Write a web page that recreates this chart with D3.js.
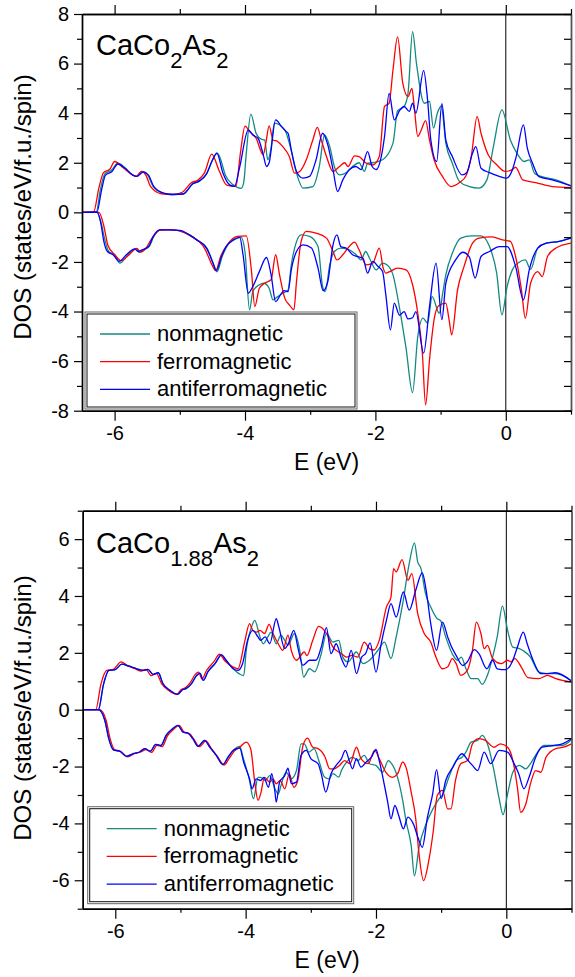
<!DOCTYPE html>
<html>
<head>
<meta charset="utf-8">
<script src="https://d3js.org/d3.v7.min.js"></script>
<style>
  body { margin: 0; background: #fff; }
  svg { display: block; font-family: "Liberation Sans", Arial, sans-serif; }
</style>
</head>
<body>
<script>
// ---- data: [E (eV), DOS] pairs ----
const SERIES = ['nonmagnetic', 'ferromagnetic', 'antiferromagnetic'];
const COLORS = ['#138a80', '#ff0000', '#0000ff'];
const X_MAJOR = [-6, -4, -2, 0];
const X_MINOR = [-5, -3, -1, 1];

// CaCo2As2
const a_nm_up = [[-6.5,0],[-6.28,0.02],[-6.22,0.9],[-6.15,1.55],[-6.05,1.7],[-5.95,1.98],[-5.84,1.8],[-5.72,1.5],[-5.66,1.45],[-5.57,1.65],[-5.49,1.5],[-5.41,1.05],[-5.26,0.78],[-5.1,0.72],[-4.95,0.74],[-4.8,1.15],[-4.69,1.28],[-4.59,1.55],[-4.5,2.1],[-4.43,2.4],[-4.39,2.25],[-4.3,1.5],[-4.18,1.11],[-4.06,0.97],[-4.02,1.2],[-3.98,2.39],[-3.91,3.96],[-3.83,3.19],[-3.75,2.95],[-3.7,2.92],[-3.65,2.12],[-3.6,2.6],[-3.55,3.6],[-3.39,3.33],[-3.32,2.79],[-3.21,1.58],[-3.11,0.98],[-2.96,1.04],[-2.86,1.85],[-2.78,3.12],[-2.7,2.65],[-2.63,1.85],[-2.55,1.51],[-2.45,1.6],[-2.35,1.85],[-2.25,2.0],[-2.17,1.65],[-2.12,1.98],[-2.04,2.0],[-1.89,2.12],[-1.73,2.79],[-1.66,4.1],[-1.56,4.27],[-1.5,4.8],[-1.43,7.29],[-1.37,6.0],[-1.25,4.4],[-1.17,4.47],[-1.11,3.4],[-1.05,4.0],[-0.99,4.29],[-0.92,2.79],[-0.82,1.98],[-0.71,1.24],[-0.56,1.04],[-0.41,0.98],[-0.29,1.31],[-0.19,2.65],[-0.06,4.13],[0.07,2.92],[0.17,2.39],[0.28,2.05],[0.36,2.12],[0.44,1.58],[0.54,1.45],[0.77,1.31],[1.0,1.07]];
const a_fm_up = [[-6.5,0],[-6.32,0.03],[-6.24,1.0],[-6.17,1.6],[-6.07,1.75],[-6.0,2.05],[-5.87,1.8],[-5.72,1.5],[-5.67,1.45],[-5.59,1.65],[-5.52,1.5],[-5.45,1.05],[-5.28,0.75],[-5.12,0.72],[-4.97,0.8],[-4.82,1.2],[-4.72,1.3],[-4.62,1.6],[-4.51,2.35],[-4.4,1.7],[-4.28,1.1],[-4.14,1.05],[-4.07,2.4],[-4.0,3.48],[-3.93,3.26],[-3.83,2.99],[-3.72,2.32],[-3.68,2.8],[-3.63,3.49],[-3.57,2.92],[-3.5,2.86],[-3.42,2.65],[-3.32,2.25],[-3.24,1.58],[-3.16,1.65],[-3.06,2.12],[-2.96,2.92],[-2.89,3.43],[-2.83,2.92],[-2.75,2.25],[-2.65,1.65],[-2.55,1.85],[-2.47,2.0],[-2.42,1.85],[-2.32,2.28],[-2.25,2.25],[-2.14,1.98],[-2.04,1.91],[-1.94,2.25],[-1.86,4.27],[-1.79,4.4],[-1.73,5.75],[-1.66,7.08],[-1.58,5.21],[-1.5,4.67],[-1.44,5.0],[-1.4,4.13],[-1.35,3.06],[-1.3,3.3],[-1.23,3.7],[-1.17,2.92],[-1.1,2.12],[-0.97,1.44],[-0.84,1.04],[-0.71,1.2],[-0.61,1.48],[-0.53,2.25],[-0.44,3.86],[-0.38,3.19],[-0.27,2.32],[-0.14,1.92],[-0.01,1.65],[0.09,1.71],[0.15,1.82],[0.26,1.31],[0.46,1.2],[0.71,1.04],[1.0,1.0]];
const a_afm_up = [[-6.5,0],[-6.27,0.02],[-6.2,0.9],[-6.14,1.5],[-6.04,1.65],[-5.95,1.95],[-5.84,1.78],[-5.72,1.5],[-5.66,1.45],[-5.56,1.62],[-5.48,1.5],[-5.4,1.05],[-5.25,0.78],[-5.1,0.72],[-4.95,0.74],[-4.8,1.15],[-4.69,1.28],[-4.59,1.55],[-4.5,2.1],[-4.43,2.38],[-4.34,1.6],[-4.23,1.1],[-4.16,1.05],[-4.08,1.85],[-3.95,3.33],[-3.88,3.12],[-3.8,2.99],[-3.72,2.32],[-3.67,1.85],[-3.63,2.0],[-3.53,3.73],[-3.44,3.46],[-3.37,3.26],[-3.34,3.19],[-3.29,2.52],[-3.21,1.65],[-3.11,1.38],[-3.01,1.45],[-2.91,2.12],[-2.81,3.19],[-2.73,2.72],[-2.65,1.72],[-2.58,0.84],[-2.5,1.31],[-2.4,1.72],[-2.3,1.85],[-2.22,1.72],[-2.12,2.45],[-2.05,1.85],[-1.99,1.72],[-1.91,2.25],[-1.86,3.06],[-1.79,4.8],[-1.71,3.73],[-1.63,4.1],[-1.56,4.27],[-1.48,4.07],[-1.43,4.4],[-1.38,4.0],[-1.26,5.72],[-1.2,4.54],[-1.15,2.92],[-1.06,2.05],[-0.98,4.38],[-0.92,2.92],[-0.82,2.25],[-0.67,1.51],[-0.6,1.6],[-0.51,2.39],[-0.46,2.65],[-0.38,1.78],[-0.25,1.6],[-0.1,1.45],[0.01,1.38],[0.1,1.71],[0.16,2.25],[0.27,3.53],[0.33,2.59],[0.41,1.98],[0.51,1.44],[0.71,1.31],[1.0,1.07]];
const a_nm_dn = [[-6.5,0],[-6.27,0],[-6.2,-0.5],[-6.15,-1.1],[-6.09,-1.58],[-6.0,-1.72],[-5.92,-2.05],[-5.8,-1.72],[-5.67,-1.47],[-5.62,-1.62],[-5.56,-1.52],[-5.47,-1.38],[-5.4,-0.98],[-5.3,-0.71],[-5.18,-0.7],[-5.0,-0.75],[-4.85,-0.93],[-4.73,-1.13],[-4.58,-1.46],[-4.48,-2.1],[-4.43,-2.4],[-4.35,-1.78],[-4.28,-1.38],[-4.17,-1.11],[-4.06,-1.0],[-4.0,-1.6],[-3.93,-3.93],[-3.88,-3.19],[-3.78,-2.92],[-3.71,-2.86],[-3.63,-3.06],[-3.57,-3.53],[-3.5,-3.4],[-3.42,-3.26],[-3.34,-3.13],[-3.29,-2.12],[-3.21,-1.18],[-3.14,-0.91],[-3.01,-0.97],[-2.88,-1.38],[-2.81,-2.99],[-2.77,-3.2],[-2.7,-2.12],[-2.63,-1.58],[-2.53,-1.44],[-2.4,-1.51],[-2.3,-1.7],[-2.22,-1.92],[-2.15,-1.58],[-2.09,-1.85],[-1.99,-2.32],[-1.89,-2.05],[-1.82,-2.12],[-1.73,-2.52],[-1.63,-3.86],[-1.53,-5.48],[-1.43,-7.27],[-1.35,-5.01],[-1.27,-4.27],[-1.2,-4.47],[-1.13,-3.4],[-1.02,-4.07],[-0.97,-3.3],[-0.92,-2.52],[-0.82,-1.65],[-0.69,-1.04],[-0.53,-0.95],[-0.38,-0.95],[-0.25,-1.38],[-0.14,-2.45],[-0.06,-4.13],[0.02,-2.99],[0.1,-2.32],[0.2,-2.02],[0.3,-1.92],[0.38,-2.3],[0.49,-1.44],[0.62,-1.24],[0.82,-1.17],[1.0,-1.04]];
const a_fm_dn = [[-6.5,0],[-6.24,0],[-6.17,-0.5],[-6.1,-1.35],[-6.0,-1.7],[-5.9,-1.95],[-5.78,-1.72],[-5.66,-1.45],[-5.6,-1.6],[-5.52,-1.45],[-5.44,-1.1],[-5.3,-0.72],[-5.12,-0.7],[-4.95,-0.8],[-4.8,-1.0],[-4.62,-1.45],[-4.5,-2.15],[-4.45,-2.35],[-4.37,-1.75],[-4.27,-1.3],[-4.12,-0.97],[-3.98,-0.95],[-3.9,-2.39],[-3.85,-3.8],[-3.78,-3.06],[-3.7,-2.86],[-3.6,-2.72],[-3.53,-1.71],[-3.47,-2.52],[-3.39,-3.46],[-3.32,-3.73],[-3.25,-3.93],[-3.21,-2.79],[-3.14,-1.18],[-3.06,-0.77],[-2.91,-0.84],[-2.75,-1.04],[-2.65,-1.58],[-2.59,-1.92],[-2.5,-1.71],[-2.42,-1.44],[-2.32,-1.2],[-2.25,-1.51],[-2.14,-2.12],[-2.04,-2.05],[-1.94,-1.44],[-1.88,-2.25],[-1.84,-2.45],[-1.78,-2.39],[-1.66,-2.25],[-1.53,-2.32],[-1.43,-2.92],[-1.35,-4.07],[-1.28,-5.68],[-1.23,-7.76],[-1.17,-5.95],[-1.1,-4.33],[-1.03,-3.77],[-0.92,-3.66],[-0.87,-4.33],[-0.83,-4.94],[-0.74,-3.13],[-0.64,-2.18],[-0.51,-1.24],[-0.41,-1.04],[-0.21,-0.99],[-0.05,-1.11],[0.07,-1.17],[0.15,-1.78],[0.24,-3.13],[0.3,-4.27],[0.38,-2.86],[0.49,-2.39],[0.56,-2.59],[0.64,-1.78],[0.77,-1.44],[1.0,-1.24]];
const a_afm_dn = [[-6.5,0],[-6.27,0],[-6.21,-0.45],[-6.17,-1.11],[-6.11,-1.58],[-6.02,-1.72],[-5.93,-1.98],[-5.82,-1.71],[-5.69,-1.47],[-5.64,-1.58],[-5.58,-1.51],[-5.48,-1.38],[-5.41,-0.98],[-5.31,-0.71],[-5.2,-0.71],[-5.0,-0.73],[-4.85,-0.91],[-4.74,-1.11],[-4.59,-1.44],[-4.49,-2.05],[-4.44,-2.35],[-4.36,-1.78],[-4.29,-1.38],[-4.18,-1.11],[-4.08,-1.01],[-4.03,-1.71],[-3.95,-3.26],[-3.88,-2.99],[-3.78,-2.39],[-3.67,-1.82],[-3.6,-2.52],[-3.53,-3.6],[-3.44,-3.26],[-3.4,-3.16],[-3.34,-3.2],[-3.29,-2.32],[-3.21,-1.58],[-3.11,-1.31],[-2.98,-1.44],[-2.88,-2.25],[-2.8,-3.16],[-2.73,-2.79],[-2.65,-1.31],[-2.59,-0.91],[-2.53,-1.38],[-2.45,-1.44],[-2.35,-1.71],[-2.28,-1.78],[-2.19,-1.85],[-2.12,-2.45],[-2.04,-1.98],[-1.96,-2.18],[-1.89,-2.39],[-1.84,-3.33],[-1.77,-4.74],[-1.71,-3.66],[-1.63,-4.15],[-1.56,-4.0],[-1.5,-4.3],[-1.43,-4.25],[-1.38,-4.0],[-1.26,-5.68],[-1.17,-3.8],[-1.07,-2.05],[-0.98,-4.33],[-0.92,-2.86],[-0.77,-1.92],[-0.66,-1.61],[-0.56,-1.8],[-0.47,-2.65],[-0.38,-1.78],[-0.25,-1.58],[-0.1,-1.38],[0.02,-1.38],[0.15,-2.18],[0.27,-3.53],[0.36,-2.32],[0.49,-1.44],[0.62,-1.24],[0.82,-1.17],[1.0,-1.04]];

// CaCo1.88As2
const b_nm_up = [[-6.5,0],[-6.26,0],[-6.18,0.9],[-6.1,1.38],[-6.0,1.41],[-5.9,1.6],[-5.8,1.54],[-5.67,1.44],[-5.57,1.38],[-5.5,1.42],[-5.42,1.24],[-5.34,1.3],[-5.27,0.92],[-5.16,0.68],[-5.04,0.54],[-4.97,0.7],[-4.91,0.75],[-4.83,0.92],[-4.75,1.21],[-4.7,1.28],[-4.65,1.03],[-4.58,1.33],[-4.47,1.62],[-4.37,1.93],[-4.3,1.74],[-4.19,1.44],[-4.09,1.25],[-4.03,1.2],[-3.99,2.09],[-3.91,2.91],[-3.86,3.14],[-3.78,2.56],[-3.73,2.32],[-3.66,2.56],[-3.61,2.73],[-3.53,2.32],[-3.46,2.62],[-3.4,2.44],[-3.35,2.27],[-3.25,2.68],[-3.17,2.09],[-3.11,1.15],[-3.02,1.44],[-2.94,1.33],[-2.84,1.97],[-2.76,2.68],[-2.66,2.38],[-2.57,2.44],[-2.51,1.85],[-2.43,1.68],[-2.3,2.03],[-2.2,1.62],[-2.1,1.74],[-1.97,2.09],[-1.87,2.38],[-1.77,1.8],[-1.69,2.56],[-1.59,3.73],[-1.49,5.14],[-1.41,5.87],[-1.36,5.2],[-1.31,4.97],[-1.24,4.08],[-1.16,3.61],[-1.06,3.2],[-1.01,3.14],[-0.93,2.56],[-0.83,1.97],[-0.75,1.74],[-0.69,1.85],[-0.62,1.44],[-0.54,1.09],[-0.44,1.09],[-0.37,0.89],[-0.29,1.21],[-0.21,1.85],[-0.14,2.56],[-0.06,3.64],[0.02,2.79],[0.1,2.2],[0.2,2.15],[0.27,2.06],[0.37,1.85],[0.5,1.32],[0.63,1.27],[0.76,1.27],[1.0,1.01]];
const b_fm_up = [[-6.5,0],[-6.3,0],[-6.22,0.9],[-6.13,1.38],[-6.03,1.42],[-5.91,1.68],[-5.82,1.56],[-5.7,1.44],[-5.6,1.36],[-5.53,1.42],[-5.45,1.2],[-5.37,1.28],[-5.29,0.92],[-5.18,0.68],[-5.06,0.54],[-4.99,0.7],[-4.92,0.78],[-4.85,0.95],[-4.77,1.25],[-4.72,1.32],[-4.67,1.08],[-4.6,1.38],[-4.49,1.68],[-4.4,1.95],[-4.32,1.72],[-4.19,1.5],[-4.12,1.44],[-4.01,2.44],[-3.94,3.03],[-3.89,2.79],[-3.83,2.73],[-3.78,2.79],[-3.71,2.68],[-3.64,3.0],[-3.58,2.68],[-3.5,2.32],[-3.43,2.09],[-3.35,2.62],[-3.3,2.09],[-3.22,1.74],[-3.1,2.03],[-3.06,1.9],[-2.97,2.44],[-2.88,2.93],[-2.76,2.68],[-2.66,2.2],[-2.53,1.97],[-2.45,1.85],[-2.37,1.91],[-2.28,1.85],[-2.18,2.38],[-2.1,2.15],[-2.03,2.1],[-1.95,2.44],[-1.84,3.61],[-1.77,3.96],[-1.73,4.96],[-1.69,4.85],[-1.6,5.28],[-1.51,4.55],[-1.45,4.79],[-1.36,3.38],[-1.26,2.68],[-1.16,2.38],[-1.08,1.85],[-0.98,1.44],[-0.9,1.5],[-0.83,1.8],[-0.77,1.62],[-0.7,1.21],[-0.6,1.38],[-0.52,2.09],[-0.46,3.08],[-0.39,2.68],[-0.34,2.15],[-0.29,2.26],[-0.21,1.8],[-0.08,1.62],[0.02,1.74],[0.07,1.68],[0.13,1.8],[0.23,1.5],[0.33,1.13],[0.5,1.09],[0.63,1.21],[0.76,1.09],[1.0,0.97]];
const b_afm_up = [[-6.5,0],[-6.26,0],[-6.18,0.9],[-6.1,1.38],[-6.0,1.41],[-5.9,1.6],[-5.8,1.54],[-5.67,1.44],[-5.57,1.38],[-5.5,1.42],[-5.42,1.24],[-5.34,1.3],[-5.27,0.92],[-5.16,0.68],[-5.04,0.54],[-4.97,0.7],[-4.91,0.75],[-4.83,0.92],[-4.75,1.21],[-4.7,1.28],[-4.65,1.03],[-4.58,1.33],[-4.47,1.62],[-4.37,1.93],[-4.3,1.74],[-4.19,1.44],[-4.12,1.38],[-4.05,1.6],[-3.97,2.44],[-3.89,2.79],[-3.81,2.56],[-3.77,2.44],[-3.7,2.56],[-3.63,2.32],[-3.53,3.2],[-3.49,2.91],[-3.4,2.15],[-3.35,2.3],[-3.26,2.79],[-3.2,2.2],[-3.12,1.56],[-3.02,1.74],[-2.92,1.74],[-2.84,2.2],[-2.76,2.89],[-2.69,1.97],[-2.61,2.32],[-2.53,1.8],[-2.46,1.5],[-2.38,2.09],[-2.3,1.27],[-2.22,1.85],[-2.16,1.97],[-2.09,2.35],[-2.0,1.32],[-1.92,2.32],[-1.84,3.14],[-1.77,3.73],[-1.69,3.26],[-1.58,4.14],[-1.49,3.5],[-1.39,4.2],[-1.29,4.81],[-1.23,4.2],[-1.16,3.03],[-1.07,2.09],[-0.98,3.08],[-0.9,2.56],[-0.85,2.26],[-0.77,1.91],[-0.67,1.56],[-0.6,1.68],[-0.49,2.11],[-0.42,1.97],[-0.3,1.44],[-0.21,1.74],[-0.14,1.44],[-0.01,1.41],[0.09,1.68],[0.17,2.2],[0.26,2.73],[0.32,2.32],[0.4,1.8],[0.53,1.27],[0.63,1.27],[0.75,1.3],[1.0,1.01]];
const b_nm_dn = [[-6.5,0],[-6.26,0],[-6.16,-0.38],[-6.1,-1.02],[-6.03,-1.41],[-5.93,-1.46],[-5.83,-1.64],[-5.73,-1.55],[-5.62,-1.48],[-5.55,-1.37],[-5.46,-1.46],[-5.38,-1.22],[-5.3,-1.26],[-5.22,-0.9],[-5.12,-0.67],[-5.04,-0.55],[-4.96,-0.79],[-4.88,-0.83],[-4.81,-1.02],[-4.73,-1.29],[-4.63,-1.08],[-4.55,-1.32],[-4.45,-1.61],[-4.35,-1.93],[-4.27,-1.67],[-4.19,-1.43],[-4.09,-1.29],[-4.04,-1.67],[-3.94,-2.49],[-3.88,-3.13],[-3.81,-2.38],[-3.77,-2.38],[-3.7,-2.49],[-3.63,-2.32],[-3.55,-2.78],[-3.5,-2.96],[-3.45,-2.6],[-3.38,-2.2],[-3.3,-2.43],[-3.22,-2.14],[-3.15,-1.2],[-3.1,-1.2],[-3.03,-1.49],[-2.95,-1.37],[-2.87,-1.84],[-2.79,-2.37],[-2.72,-2.43],[-2.66,-2.25],[-2.57,-2.37],[-2.53,-2.14],[-2.43,-1.79],[-2.36,-1.67],[-2.28,-1.79],[-2.18,-1.61],[-2.1,-1.9],[-2.0,-1.96],[-1.9,-2.2],[-1.81,-1.79],[-1.76,-1.9],[-1.67,-2.37],[-1.59,-3.19],[-1.54,-3.9],[-1.46,-4.78],[-1.41,-5.85],[-1.34,-4.84],[-1.23,-4.01],[-1.14,-3.55],[-1.03,-3.13],[-0.98,-3.0],[-0.88,-2.37],[-0.77,-1.79],[-0.68,-1.67],[-0.62,-1.49],[-0.54,-1.14],[-0.44,-1.08],[-0.37,-0.9],[-0.29,-1.2],[-0.19,-2.14],[-0.11,-3.13],[-0.05,-3.69],[0.02,-2.96],[0.1,-2.2],[0.2,-1.96],[0.3,-2.08],[0.37,-1.9],[0.48,-1.49],[0.58,-1.26],[0.72,-1.26],[0.86,-1.26],[1.0,-1.05]];
const b_fm_dn = [[-6.5,0],[-6.24,0],[-6.14,-0.38],[-6.08,-1.02],[-6.01,-1.41],[-5.91,-1.48],[-5.81,-1.66],[-5.71,-1.55],[-5.6,-1.48],[-5.53,-1.4],[-5.44,-1.5],[-5.36,-1.25],[-5.28,-1.3],[-5.2,-0.92],[-5.1,-0.68],[-5.02,-0.55],[-4.94,-0.8],[-4.86,-0.85],[-4.79,-1.05],[-4.71,-1.3],[-4.61,-1.1],[-4.53,-1.35],[-4.43,-1.65],[-4.33,-1.95],[-4.25,-1.7],[-4.17,-1.45],[-4.09,-1.32],[-3.99,-1.14],[-3.92,-1.4],[-3.86,-2.55],[-3.81,-3.19],[-3.77,-2.96],[-3.71,-2.38],[-3.63,-2.55],[-3.58,-2.43],[-3.53,-2.61],[-3.47,-2.49],[-3.4,-2.78],[-3.33,-2.26],[-3.26,-2.73],[-3.2,-2.49],[-3.12,-1.26],[-3.05,-1.0],[-2.97,-1.32],[-2.89,-1.37],[-2.78,-1.67],[-2.71,-2.08],[-2.64,-2.08],[-2.56,-1.96],[-2.48,-1.79],[-2.4,-1.9],[-2.3,-1.32],[-2.23,-1.72],[-2.12,-1.9],[-2.02,-1.43],[-1.95,-1.72],[-1.85,-2.2],[-1.75,-2.38],[-1.67,-2.26],[-1.59,-1.84],[-1.54,-2.02],[-1.46,-2.9],[-1.39,-3.84],[-1.34,-5.07],[-1.27,-6.01],[-1.19,-5.31],[-1.12,-4.25],[-1.06,-3.02],[-0.98,-2.84],[-0.9,-3.49],[-0.85,-3.49],[-0.78,-2.49],[-0.7,-1.9],[-0.59,-1.78],[-0.52,-1.2],[-0.42,-1.02],[-0.32,-1.08],[-0.19,-1.32],[-0.09,-1.2],[0.02,-1.32],[0.1,-1.78],[0.17,-2.73],[0.22,-3.61],[0.3,-3.31],[0.37,-2.61],[0.45,-2.14],[0.53,-2.2],[0.61,-1.67],[0.76,-1.37],[0.88,-1.32],[1.0,-1.2]];
const b_afm_dn = [[-6.5,0],[-6.26,0],[-6.16,-0.38],[-6.1,-1.02],[-6.03,-1.41],[-5.93,-1.46],[-5.83,-1.64],[-5.73,-1.55],[-5.62,-1.48],[-5.55,-1.37],[-5.46,-1.46],[-5.38,-1.22],[-5.3,-1.26],[-5.22,-0.9],[-5.12,-0.67],[-5.04,-0.55],[-4.96,-0.79],[-4.88,-0.83],[-4.81,-1.02],[-4.73,-1.29],[-4.63,-1.08],[-4.55,-1.32],[-4.45,-1.61],[-4.35,-1.93],[-4.27,-1.67],[-4.19,-1.43],[-4.09,-1.35],[-4.03,-1.85],[-3.94,-2.43],[-3.9,-2.78],[-3.84,-2.43],[-3.77,-2.49],[-3.72,-2.38],[-3.65,-2.73],[-3.6,-2.25],[-3.55,-2.9],[-3.53,-3.25],[-3.48,-2.55],[-3.4,-2.32],[-3.35,-2.06],[-3.3,-2.6],[-3.22,-2.55],[-3.15,-1.61],[-3.07,-1.43],[-3.0,-1.72],[-2.89,-1.9],[-2.84,-2.25],[-2.77,-2.9],[-2.69,-2.25],[-2.59,-1.9],[-2.53,-1.72],[-2.47,-1.43],[-2.41,-1.79],[-2.36,-2.08],[-2.3,-1.72],[-2.23,-2.02],[-2.15,-1.84],[-2.07,-1.67],[-2.0,-1.4],[-1.95,-1.79],[-1.89,-2.43],[-1.82,-3.25],[-1.77,-3.84],[-1.71,-3.37],[-1.65,-3.73],[-1.58,-4.19],[-1.51,-3.78],[-1.43,-4.0],[-1.34,-4.6],[-1.29,-4.84],[-1.21,-3.78],[-1.13,-2.96],[-1.07,-2.11],[-1.0,-3.13],[-0.93,-2.49],[-0.82,-2.02],[-0.68,-1.55],[-0.59,-1.78],[-0.52,-1.96],[-0.44,-2.14],[-0.34,-1.49],[-0.24,-1.9],[-0.11,-1.43],[0.02,-1.49],[0.12,-1.9],[0.19,-2.25],[0.27,-2.78],[0.35,-2.37],[0.45,-1.67],[0.55,-1.32],[0.72,-1.26],[0.86,-1.2],[1.0,-1.02]];

const svg = d3.select('body').append('svg')
    .attr('width', 575)
    .attr('height', 977);

const FONT = '"Liberation Sans", Arial, sans-serif';

function drawPanel(cfg)
{
    const x = d3.scaleLinear().domain([-6.5, 1]).range([cfg.left, cfg.right]);
    const y = d3.scaleLinear().domain(cfg.ydom).range([cfg.bottom, cfg.top]);
    const g = svg.append('g');

    const clipId = 'clip' + cfg.id;
    g.append('clipPath').attr('id', clipId)
        .append('rect')
        .attr('x', cfg.left).attr('y', cfg.top)
        .attr('width', cfg.right - cfg.left).attr('height', cfg.bottom - cfg.top);

    // E = 0 line
    g.append('line')
        .attr('x1', x(0)).attr('x2', x(0))
        .attr('y1', cfg.top).attr('y2', cfg.bottom)
        .attr('stroke', '#000').attr('stroke-width', 1);

    const line = d3.line()
        .x(function(d) { return x(d[0]); })
        .y(function(d) { return y(d[1]); })
        .curve(d3.curveMonotoneX);

    const curves = g.append('g').attr('clip-path', 'url(#' + clipId + ')');
    // draw order: nonmagnetic, ferromagnetic, antiferromagnetic (blue on top)
    cfg.data.forEach(function(pair, i) {
        pair.forEach(function(arr) {
            curves.append('path')
                .datum(arr)
                .attr('d', line)
                .attr('fill', 'none')
                .attr('stroke', COLORS[i])
                .attr('stroke-width', 1.3)
                .attr('stroke-linejoin', 'round');
        });
    });

    const yMajor = d3.range(cfg.ydom[0] + cfg.majorOff, cfg.ydom[1] + 0.01, 2);
    const yMinor = d3.range(cfg.ydom[0] + 1 - cfg.majorOff, cfg.ydom[1] + 0.01, 2);

    function style(sel) {
        sel.selectAll('.domain').attr('stroke', '#000').attr('stroke-width', 1.4);
        sel.selectAll('.tick line').attr('stroke', '#000').attr('stroke-width', 1.2);
        sel.selectAll('text').attr('font-family', FONT).attr('font-size', 20).attr('fill', '#000');
    }

    // left
    g.append('g').attr('transform', 'translate(' + cfg.left + ',0)')
        .call(d3.axisLeft(y).tickValues(yMajor).tickSize(8).tickSizeOuter(0).tickPadding(5)
            .tickFormat(function(d) { return String(d); }))
        .call(style);
    g.append('g').attr('transform', 'translate(' + cfg.left + ',0)')
        .call(d3.axisLeft(y).tickValues(yMinor).tickSize(5).tickSizeOuter(0).tickFormat(''))
        .call(style);
    // right (ticks inward)
    g.append('g').attr('transform', 'translate(' + cfg.right + ',0)')
        .call(d3.axisRight(y).tickValues(yMajor.concat(yMinor)).tickSize(-7).tickSizeOuter(0).tickFormat(''))
        .call(style)
        .call(function(s) { s.selectAll('.domain').attr('stroke', '#555').attr('stroke-width', 1.8); });
    // bottom
    g.append('g').attr('transform', 'translate(0,' + cfg.bottom + ')')
        .call(d3.axisBottom(x).tickValues(X_MAJOR).tickSize(10).tickSizeOuter(0).tickPadding(5)
            .tickFormat(function(d) { return String(d); }))
        .call(style);
    g.append('g').attr('transform', 'translate(0,' + cfg.bottom + ')')
        .call(d3.axisBottom(x).tickValues(X_MINOR).tickSize(4).tickSizeOuter(0).tickFormat(''))
        .call(style);
    // top
    g.append('g').attr('transform', 'translate(0,' + cfg.top + ')')
        .call(d3.axisTop(x).tickValues(X_MAJOR).tickSize(9).tickSizeOuter(0).tickFormat(''))
        .call(style);
    g.append('g').attr('transform', 'translate(0,' + cfg.top + ')')
        .call(d3.axisTop(x).tickValues(X_MINOR).tickSize(5).tickSizeOuter(0).tickFormat(''))
        .call(style);

    // axis titles
    g.append('text')
        .attr('x', (cfg.left + cfg.right) / 2).attr('y', cfg.bottom + 59)
        .attr('text-anchor', 'middle')
        .attr('font-family', FONT).attr('font-size', 23)
        .text('E (eV)');
    g.append('text')
        .attr('transform', 'translate(31,' + cfg.labelY + ') rotate(-90)')
        .attr('text-anchor', 'middle')
        .attr('font-family', FONT).attr('font-size', 24)
        .text('DOS (states/eV/f.u./spin)');

    // compound name
    const t = g.append('text')
        .attr('x', 96).attr('y', cfg.titleY)
        .attr('font-family', FONT).attr('font-size', 29);
    t.append('tspan').text('CaCo');
    t.append('tspan').attr('dy', 13).attr('font-size', 22).text(cfg.sub);
    t.append('tspan').attr('dy', -13).text('As');
    t.append('tspan').attr('dy', 13).attr('font-size', 22).text('2');

    // legend
    const L = cfg.legend;
    const lg = g.append('g');
    lg.append('rect')
        .attr('x', L.x).attr('y', L.y).attr('width', L.w).attr('height', L.h)
        .attr('fill', '#fff').attr('stroke', '#666').attr('stroke-width', 1);
    lg.append('rect')
        .attr('x', L.x + 2).attr('y', L.y + 2).attr('width', L.w - 4).attr('height', L.h - 4)
        .attr('fill', 'none').attr('stroke', '#111').attr('stroke-width', 1);
    SERIES.forEach(function(name, i) {
        const yy = L.y + 22 + i * 27.7;
        lg.append('line')
            .attr('x1', L.x + L.lx).attr('x2', L.x + L.lx + 50)
            .attr('y1', yy).attr('y2', yy)
            .attr('stroke', COLORS[i]).attr('stroke-width', 1.3);
        lg.append('text')
            .attr('x', L.x + L.lx + 57).attr('y', yy + 7)
            .attr('font-family', FONT).attr('font-size', 22)
            .text(name);
    });
}

drawPanel({
    id: 'a', left: 82, right: 571, top: 14, bottom: 410.7,
    ydom: [-8, 8], majorOff: 0, labelY: 207, titleY: 55, sub: '2',
    data: [[a_nm_up, a_nm_dn], [a_fm_up, a_fm_dn], [a_afm_up, a_afm_dn]],
    legend: { x: 85, y: 312, w: 272, h: 97, lx: 15 }
});
drawPanel({
    id: 'b', left: 82.7, right: 571.5, top: 510.7, bottom: 908.7,
    ydom: [-7, 7], majorOff: 1, labelY: 708, titleY: 553, sub: '1.88',
    data: [[b_nm_up, b_nm_dn], [b_fm_up, b_fm_dn], [b_afm_up, b_afm_dn]],
    legend: { x: 87.7, y: 806.7, w: 266, h: 97, lx: 19 }
});
</script>
</body>
</html>
